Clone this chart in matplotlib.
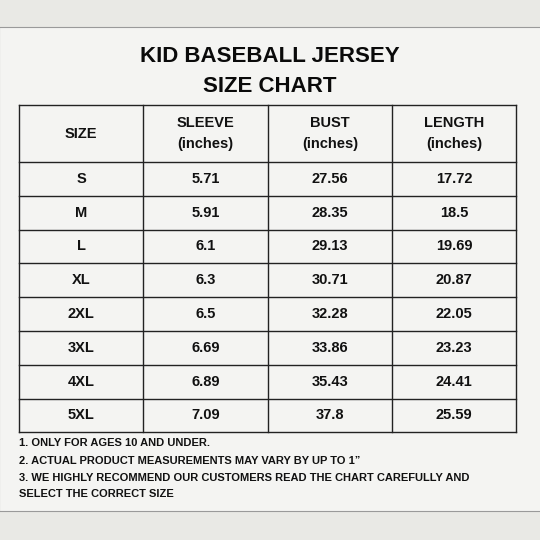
import matplotlib.pyplot as plt
from matplotlib.patches import Rectangle

TITLE = ["KID BASEBALL JERSEY", "SIZE CHART"]
HEADERS = ["SIZE", "SLEEVE\n(inches)", "BUST\n(inches)", "LENGTH\n(inches)"]
SIZES = ["S", "M", "L", "XL", "2XL", "3XL", "4XL", "5XL"]
SLEEVE = ["5.71", "5.91", "6.1", "6.3", "6.5", "6.69", "6.89", "7.09"]
BUST = ["27.56", "28.35", "29.13", "30.71", "32.28", "33.86", "35.43", "37.8"]
LENGTH = ["17.72", "18.5", "19.69", "20.87", "22.05", "23.23", "24.41", "25.59"]
NOTES = [
    "1. ONLY FOR AGES 10 AND UNDER.",
    "2. ACTUAL PRODUCT MEASUREMENTS MAY VARY BY UP TO 1\u201d",
    "3. WE HIGHLY RECOMMEND OUR CUSTOMERS READ THE CHART CAREFULLY AND",
    "SELECT THE CORRECT SIZE",
]

plt.rcParams["font.family"] = ["Liberation Sans", "DejaVu Sans"]

fig = plt.figure(figsize=(5.4, 5.4), dpi=100)
ax = fig.add_axes([0, 0, 1, 1])
ax.set_xlim(0, 540)
ax.set_ylim(540, 0)
ax.axis("off")
fig.patch.set_facecolor("#e9e9e5")

# panel
ax.add_patch(Rectangle((-1, 27), 542, 484, facecolor="#f4f4f2", edgecolor="#9a9a9a", lw=0.8))

ax.text(270, 56, TITLE[0], ha="center", va="center", fontsize=16, fontweight="bold", color="#0a0a0a")
ax.text(270, 87, TITLE[1], ha="center", va="center", fontsize=16, fontweight="bold", color="#0a0a0a")

# table grid
col_x = [19, 143, 268, 392, 516]
header_top, header_bot = 105, 162
row_h = 33.8
row_y = [header_top, header_bot] + [header_bot + row_h * (i + 1) for i in range(len(SIZES))]
table_bot = row_y[-1]

for y in row_y:
    ax.plot([col_x[0], col_x[-1]], [y, y], color="#222", lw=1.0)
for x in col_x:
    ax.plot([x, x], [header_top, table_bot], color="#222", lw=1.0)

for j, h in enumerate(HEADERS):
    cx = (col_x[j] + col_x[j + 1]) / 2
    ax.text(cx, (header_top + header_bot) / 2, h, ha="center", va="center",
            fontsize=10.5, fontweight="bold", linespacing=1.6, color="#111")

columns = [SIZES, SLEEVE, BUST, LENGTH]
for i in range(len(SIZES)):
    cy = row_y[i + 1] + row_h / 2
    for j, col in enumerate(columns):
        cx = (col_x[j] + col_x[j + 1]) / 2
        ax.text(cx, cy, col[i], ha="center", va="center", fontsize=10.5,
                fontweight="bold", color="#111")

note_y = [443, 461, 478, 494]
for y, n in zip(note_y, NOTES):
    ax.text(19, y, n, ha="left", va="center", fontsize=8, fontweight="bold", color="#111")

fig.savefig("out.png", dpi=100, facecolor=fig.get_facecolor())
